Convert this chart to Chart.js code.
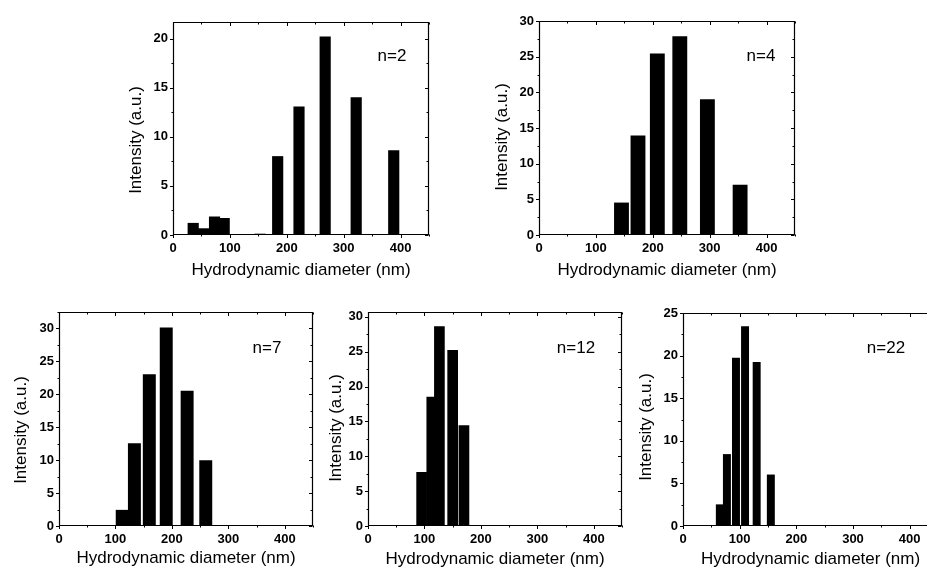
<!DOCTYPE html>
<html>
<head>
<meta charset="utf-8">
<script src="https://cdn.jsdelivr.net/npm/chart.js@4.4.1/dist/chart.umd.min.js"></script>
<style>
  html, body { margin: 0; padding: 0; background: #fff; }
  #wrap { position: relative; width: 927px; height: 569px; overflow: hidden; background: #fff; }
  #wrap canvas { position: absolute; }
</style>
</head>
<body>
<div id="wrap"></div>
<script>
// ---------------- data ----------------
const xTickValues = [0, 100, 200, 300, 400];
const xTitle = 'Hydrodynamic diameter (nm)';
const yTitle = 'Intensity (a.u.)';
const panelLabels = ['n=2', 'n=4', 'n=7', 'n=12', 'n=22'];

const n2Diameter = [35.5, 53.5, 73, 90, 153, 184, 221.5, 267.5, 322, 388];
const n2Intensity = [1.2, 0.65, 1.85, 1.7, 0.1, 8.0, 13.05, 20.2, 14.0, 8.6];

const n4Diameter = [145, 174, 208, 247.5, 296, 353.5];
const n4Intensity = [4.5, 13.9, 25.4, 27.8, 19.0, 7.0];

const n7Diameter = [112, 133.6, 160, 190, 227, 260];
const n7Intensity = [2.4, 12.5, 23.0, 30.1, 20.5, 9.95];

const n12Diameter = [95, 113, 126.5, 150, 170];
const n12Intensity = [7.7, 18.5, 28.6, 25.2, 14.4];

const n22Diameter = [65, 77.5, 93.5, 109.5, 130, 155];
const n22Intensity = [2.5, 8.4, 19.7, 23.4, 19.2, 6.0];

const xMax = 450;
const yMaxValues = [21.7, 30, 32.5, 30.7, 25];

// ---------------- layout / style (page coordinates) ----------------
const layouts = [
  {L:173, T:22,  R:429, B:235, yT:[136,140], xTY:270, nP:[392,56],  bar:10.5},
  {L:539, T:21,  R:795, B:235, yT:[502,137], xTY:270, nP:[761,56],  bar:14.2},
  {L:59,  T:312, R:313, B:526, yT:[21,430],  xTY:558, nP:[267,348], bar:12.3},
  {L:368, T:312, R:622, B:526, yT:[336,428], xTY:559, nP:[576,348], bar:10},
  {L:683, T:313, R:938, B:526, yT:[646,427], xTY:559, nP:[886,348], bar:7.3}
];
const series = [
  [n2Diameter, n2Intensity],
  [n4Diameter, n4Intensity],
  [n7Diameter, n7Intensity],
  [n12Diameter, n12Intensity],
  [n22Diameter, n22Intensity]
];

const FONT = "'Liberation Sans', Arial, Helvetica, sans-serif";
const PAD_L = 70, PAD_T = 15, PAD_R = 15, X_AXIS_H = 50;

const framePlugin = {
  id: 'frame',
  afterDatasetsDraw(chart, args, o) {
    const {ctx, chartArea: a, scales: {x, y}} = chart;
    ctx.save();
    ctx.strokeStyle = '#000';
    ctx.lineWidth = 1.2;
    const L = Math.round(a.left) + 0.5, R = Math.round(a.right) - 0.5;
    const T = Math.round(a.top) + 0.5, B = Math.round(a.bottom) - 0.5;
    ctx.beginPath();
    ctx.rect(L, T, R - L, B - T);
    ctx.stroke();
    ctx.lineWidth = 1;
    ctx.beginPath();
    for (let v = 0; v <= x.max + 1e-6; v += 50) {
      const px = Math.round(x.getPixelForValue(v)) + 0.5;
      const len = (v % 100 === 0) ? 3.5 : 2;
      ctx.moveTo(px, B); ctx.lineTo(px, B + len);
      ctx.moveTo(px, T); ctx.lineTo(px, T + len);
    }
    for (let v = 0; v <= y.max + 1e-6; v += 2.5) {
      const py = Math.round(y.getPixelForValue(v)) + 0.5;
      const len = (v % 5 === 0) ? 3.5 : 2;
      ctx.moveTo(L, py); ctx.lineTo(L - len, py);
      ctx.moveTo(R, py); ctx.lineTo(R - len, py);
    }
    ctx.stroke();
    ctx.restore();
  },
  afterDraw(chart, args, o) {
    const ctx = chart.ctx;
    ctx.save();
    ctx.fillStyle = '#000';
    ctx.font = '17px ' + FONT;
    ctx.textAlign = 'center';
    ctx.textBaseline = 'middle';
    ctx.fillText(o.label, o.labelX, o.labelY);
    ctx.translate(o.yTitleX, o.yTitleY);
    ctx.rotate(-Math.PI / 2);
    ctx.font = '17px ' + FONT;
    ctx.fillText(o.yTitle, 0, 0);
    ctx.restore();
  }
};

const wrap = document.getElementById('wrap');
layouts.forEach((lay, i) => {
  const cLeft = lay.L - PAD_L;
  const cTop = lay.T - PAD_T;
  const w = (lay.R - lay.L) + PAD_L + PAD_R;
  const h = PAD_T + (lay.B - lay.T) + X_AXIS_H;
  const cv = document.createElement('canvas');
  cv.width = w; cv.height = h;
  cv.style.left = cLeft + 'px'; cv.style.top = cTop + 'px';
  cv.style.width = w + 'px'; cv.style.height = h + 'px';
  wrap.appendChild(cv);
  const [xs, ys] = series[i];
  const titlePadBottom = (lay.B + X_AXIS_H) - lay.xTY - 17 * 1.2 / 2;
  new Chart(cv, {
    type: 'bar',
    data: {
      datasets: [{
        data: xs.map((v, k) => ({x: v, y: ys[k]})),
        backgroundColor: '#000',
        borderWidth: 0,
        barThickness: lay.bar
      }]
    },
    options: {
      responsive: false,
      animation: false,
      devicePixelRatio: 1,
      layout: {padding: {left: 0, top: PAD_T, right: PAD_R, bottom: 0}},
      plugins: {
        legend: {display: false},
        tooltip: {enabled: false},
        frame: {
          label: panelLabels[i],
          labelX: lay.nP[0] - cLeft, labelY: lay.nP[1] - cTop,
          yTitle: yTitle,
          yTitleX: lay.yT[0] - cLeft, yTitleY: lay.yT[1] - cTop
        }
      },
      scales: {
        x: {
          type: 'linear',
          min: 0, max: xMax,
          offset: false,
          grid: {display: false, drawTicks: false},
          border: {display: false},
          ticks: {
            stepSize: 100, includeBounds: false, padding: 6,
            color: '#000', font: {family: FONT, size: 13, weight: 'bold'},
            maxRotation: 0, autoSkip: false
          },
          afterBuildTicks: (s) => { s.ticks = xTickValues.map(v => ({value: v})); },
          afterFit: (s) => { s.height = X_AXIS_H; },
          title: {
            display: true, text: xTitle, color: '#000',
            font: {family: FONT, size: 17, weight: 'normal'},
            padding: {top: 0, bottom: titlePadBottom}
          }
        },
        y: {
          min: 0, max: yMaxValues[i],
          grid: {display: false, drawTicks: false},
          border: {display: false},
          ticks: {
            stepSize: 5, includeBounds: false, padding: 5,
            color: '#000', font: {family: FONT, size: 13, weight: 'bold'}
          },
          afterBuildTicks: (s) => { s.ticks = s.ticks.filter(t => Math.abs(t.value % 5) < 1e-6); },
          afterFit: (s) => { s.width = PAD_L; }
        }
      }
    },
    plugins: [framePlugin]
  });
});
</script>
</body>
</html>
